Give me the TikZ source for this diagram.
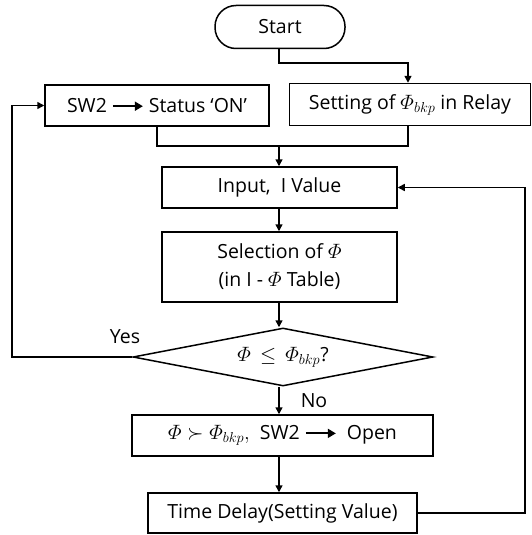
\documentclass[tikz,border=0pt]{standalone}
\usepackage{fontspec}
\usepackage{amsmath,amssymb}
\setmainfont{Open Sans}
\usetikzlibrary{arrows.meta,shapes.geometric}
\newcommand{\thickarrow}{\tikz[baseline=-0.6ex]\draw[line width=1.8pt,-{Triangle[length=8pt,width=9pt]}](0,0)--(30pt,0);}
\begin{document}
\begin{tikzpicture}[x=1pt,y=-1pt,
  box/.style={draw,line width=1.5pt,inner sep=0pt,font=\fontsize{19.5}{23}\selectfont,align=center},
  line/.style={line width=1.5pt},
  arr/.style={line width=1.5pt,-{Triangle[length=7pt,width=7pt]}},
  lbl/.style={font=\fontsize{19.5}{23}\selectfont}]
\useasboundingbox (0,0) rectangle (532,535);
\node[box,rounded corners=21pt,minimum width=130pt,minimum height=43pt] (start) at (280,27) {Start};
\node[box,minimum width=224pt,minimum height=41pt] (sw) at (157,105.5) {SW2 \thickarrow\ Status `ON'};
\node[box,minimum width=241pt,minimum height=42pt] (set) at (410,104.5) {Setting of $\varPhi_{bkp}$ in Relay};
\node[box,minimum width=235pt,minimum height=41pt] (input) at (279.5,187.5) {Input,~ I Value};
\node[box,minimum width=235pt,minimum height=70pt,font=\fontsize{19.5}{28}\selectfont] (sel) at (279.5,267) {Selection of $\varPhi$\\ (in I - $\varPhi$ Table)};
\node[draw,line width=1.5pt,diamond,aspect=5.2,inner sep=0pt,minimum width=300pt,minimum height=58pt] (dec) at (283,357) {};
\node[lbl] (q) at (283,357) {$\varPhi \,\leq\, \varPhi_{bkp}$?};
\node[box,minimum width=301pt,minimum height=41pt] (open) at (282.5,435.5) {$\varPhi \succ \varPhi_{bkp},$~ SW2 \thickarrow\ ~Open};
\node[box,minimum width=269pt,minimum height=40pt] (td) at (282.5,513) {Time Delay(Setting Value)};
\node[lbl] (yes) at (125,337) {Yes};
\node[lbl] (no) at (314,401) {No};
\coordinate (m1) at (279,63);
\coordinate (j) at (279,146);
\draw[arr] (start.south -| m1) -- (m1) -| (set.north -| 408,0);
\draw[line] (sw.south -| 157,0) |- (j) -| (set.south -| 408,0);
\draw[arr] (j) -- (input.north -| j);
\draw[arr] (input.south -| j) -- (sel.north -| j);
\draw[arr] (sel.south -| j) -- (dec.north -| j);
\draw[arr] (dec.west) -- (12,357) |- (sw.west);
\draw[arr] (dec.south -| j) -- (open.north -| j);
\draw[arr] (open.south -| j) -- (td.north -| j);
\draw[arr] (td.east) -- (525,513) |- (input.east);
\end{tikzpicture}
\end{document}
